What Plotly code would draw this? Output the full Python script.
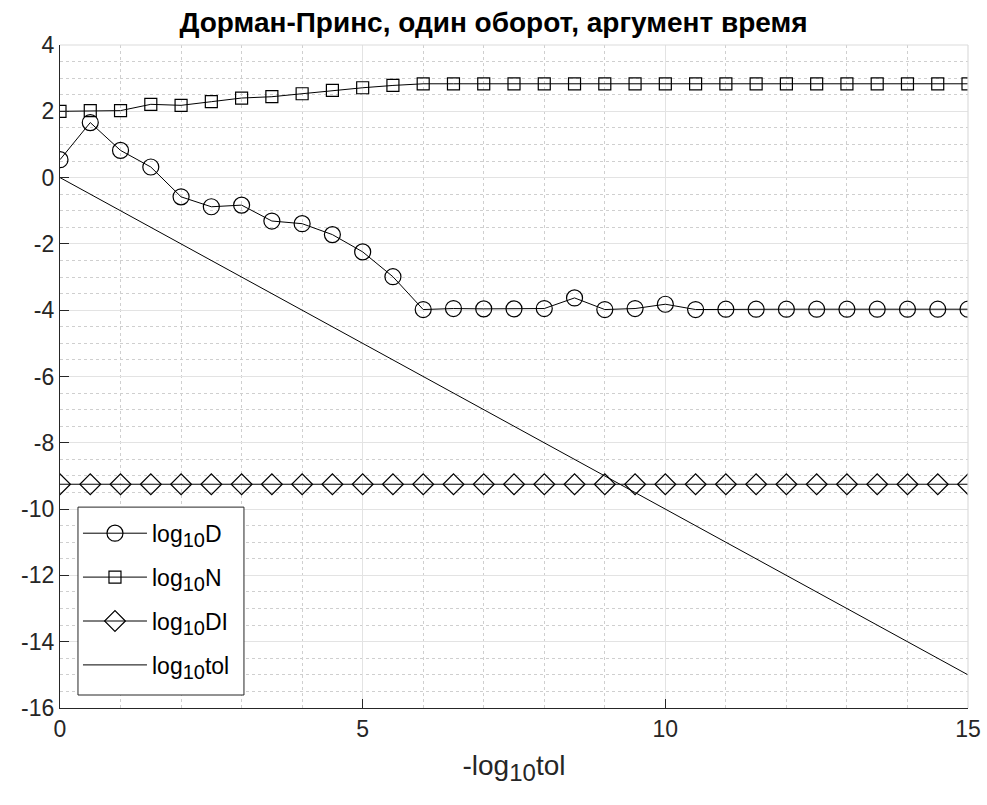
import plotly.graph_objects as go

x = [i * 0.5 for i in range(31)]
log_D = [0.54, 1.66, 0.82, 0.32, -0.58, -0.88, -0.83, -1.31, -1.39, -1.72, -2.24, -2.99,
         -3.98, -3.95, -3.96, -3.96, -3.95, -3.63, -3.98, -3.95, -3.82, -3.98, -3.97, -3.97,
         -3.97, -3.97, -3.97, -3.97, -3.97, -3.97, -3.97]
log_N = [2.00, 2.02, 2.02, 2.21, 2.18, 2.29, 2.40, 2.44, 2.53, 2.63, 2.71, 2.78,
         2.83, 2.83, 2.83, 2.83, 2.83, 2.83, 2.83, 2.83, 2.83, 2.83, 2.83, 2.83,
         2.83, 2.83, 2.83, 2.83, 2.83, 2.83, 2.83]
log_DI = [-9.25] * 31
tol_x = [0, 15]
tol_y = [0, -15]
x_ticks = [0, 5, 10, 15]
y_ticks = list(range(-16, 5, 2))
y_ticktext = [str(v) for v in y_ticks]

FONT = "Liberation Sans"
SUB = '<sub><span style="font-size:20px">10</span></sub>'

fig = go.Figure()
fig.add_trace(go.Scatter(x=x, y=log_D, mode="lines+markers", name="log" + SUB + "D", legendgroup="a",
                         line=dict(color="black", width=1),
                         marker=dict(symbol="circle-open", size=16, color="black", line=dict(width=1.2))))
fig.add_trace(go.Scatter(x=x, y=log_N, mode="lines+markers", name="log" + SUB + "N", legendgroup="b",
                         line=dict(color="black", width=1),
                         marker=dict(symbol="square-open", size=12, color="black", line=dict(width=1.2))))
fig.add_trace(go.Scatter(x=x, y=log_DI, mode="lines+markers", name="log" + SUB + "DI", legendgroup="c",
                         line=dict(color="black", width=1),
                         marker=dict(symbol="diamond-open", size=16, color="black", line=dict(width=1.2))))
fig.add_trace(go.Scatter(x=tol_x, y=tol_y, mode="lines", name="log" + SUB + "tol", legendgroup="d",
                         line=dict(color="black", width=1)))

axis_common = dict(
    showline=True, linecolor="#262626", linewidth=1.2,
    ticks="inside", ticklen=9, tickcolor="#262626",
    showgrid=True, gridcolor="#e3e3e3", gridwidth=1,
    zeroline=False, automargin=False,
    tickfont=dict(size=23, color="#262626", family=FONT),
)
fig.update_xaxes(range=[0, 15], tickvals=x_ticks, ticktext=[str(v) for v in x_ticks], **axis_common,
                 minor=dict(dtick=1, showgrid=True, gridcolor="#cfcfcf", griddash="dot", gridwidth=1),
                 title=dict(text="-log" + '<sub><span style="font-size:24px">10</span></sub>' + "tol",
                            font=dict(size=28, color="#262626", family=FONT), standoff=14))
fig.update_yaxes(range=[-16, 4], tickvals=y_ticks, ticktext=y_ticktext, **axis_common,
                 minor=dict(dtick=0.5, showgrid=True, gridcolor="#cfcfcf", griddash="dot", gridwidth=1))

fig.add_shape(type="line", xref="paper", yref="paper", x0=0, x1=1, y0=1, y1=1,
              line=dict(color="#dcdcdc", width=1.2))
fig.add_shape(type="line", xref="paper", yref="paper", x0=1, x1=1, y0=0, y1=1,
              line=dict(color="#dcdcdc", width=1.2))
# legend box
fig.add_shape(type="rect", xref="paper", yref="paper", x0=0.0198, x1=0.2026, y0=0.0196, y1=0.303,
              line=dict(color="#262626", width=1), fillcolor="white", layer="above")

fig.update_layout(
    width=987, height=805,
    margin=dict(l=60, r=19, t=45, b=97),
    paper_bgcolor="white", plot_bgcolor="white",
    title=dict(text="<b>Дорман-Принс, один оборот, аргумент время</b>", x=0.5, xanchor="center",
               y=0.972, yanchor="middle", font=dict(size=28, color="black", family=FONT)),
    font=dict(family=FONT, color="black"),
    legend=dict(x=0.0198, y=0.296, xanchor="left", yanchor="top",
                bgcolor="rgba(0,0,0,0)", borderwidth=0,
                font=dict(size=23, color="black", family=FONT),
                itemwidth=64, tracegroupgap=11),
    showlegend=True,
)

fig.write_html("out.html")
